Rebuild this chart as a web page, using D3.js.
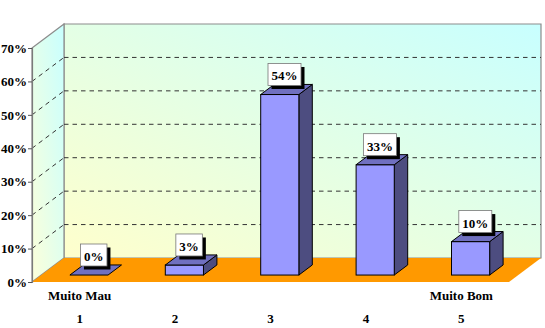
<!DOCTYPE html>
<html>
<head>
<meta charset="utf-8">
<script src="https://cdn.jsdelivr.net/npm/d3@7"></script>
<style>
  body { margin: 0; background: #fff; }
  svg { display: block; }
  text { font-family: "Liberation Serif", "Times New Roman", serif; font-weight: bold; }
</style>
</head>
<body>
<svg id="chart"></svg>
<script>
var categories = ["1", "2", "3", "4", "5"]
var endLabels = ["Muito Mau", "", "", "", "Muito Bom"]
var values = [0, 3, 54, 33, 10]
var valueLabels = ["0%", "3%", "54%", "33%", "10%"]
var yTicks = [0, 10, 20, 30, 40, 50, 60, 70]

buildChart()

function buildChart() {
	var dim = { width: 545, height: 328, left: 32, right: 509, top: 48, bottom: 282 }
	// depth of the 3d box, and where the bars sit inside it
	var depth = { dx: 32, dy: -24, f0: 0.29, f1: 0.71 }

	var svg = d3.select('#chart')
		.attr('width', dim.width)
		.attr('height', dim.height)

	var x = d3.scaleBand()
		.domain(categories)
		.range([dim.left, dim.right])
		.paddingInner(0.6)
		.paddingOuter(0.3)

	var y = d3.scaleLinear()
		.domain([0, 70])
		.range([dim.bottom, dim.top])

	var defs = svg.append('defs')
	var g1 = defs.append('linearGradient').attr('id', 'wallGrad')
		.attr('x1', 0).attr('y1', 1).attr('x2', 1).attr('y2', 0)
	g1.append('stop').attr('offset', '0%').attr('stop-color', '#FFFFCC')
	g1.append('stop').attr('offset', '100%').attr('stop-color', '#C8FFFF')
	var g2 = defs.append('linearGradient').attr('id', 'sideGrad')
		.attr('x1', 0).attr('y1', 1).attr('x2', 1).attr('y2', 0)
	g2.append('stop').attr('offset', '0%').attr('stop-color', '#FCFFDA')
	g2.append('stop').attr('offset', '100%').attr('stop-color', '#C8FFFF')

	var pts = p => p.map(d => d.join(',')).join(' ')
	var x0 = dim.left, x1 = dim.right, yb = y(0), yt = y(70)
	var dx = depth.dx, dy = depth.dy

	// back wall
	svg.append('polygon')
		.attr('points', pts([[x0 + dx, yt + dy], [x1 + dx, yt + dy], [x1 + dx, yb + dy], [x0 + dx, yb + dy]]))
		.attr('fill', 'url(#wallGrad)')
		.attr('stroke', '#8c8c8c')
		.attr('stroke-width', 1.2)
	// left wall
	svg.append('polygon')
		.attr('points', pts([[x0, yt], [x0 + dx, yt + dy], [x0 + dx, yb + dy], [x0, yb]]))
		.attr('fill', 'url(#sideGrad)')
		.attr('stroke', '#8c8c8c')
		.attr('stroke-width', 1.2)

	// gridlines
	var grid = yTicks.filter(d => d > 0 && d < 70)
	svg.selectAll('line.hgrid')
		.data(grid)
		.enter()
		.append('line')
			.attr('x1', x0 + dx)
			.attr('x2', x1 + dx)
			.attr('y1', d => y(d) + dy)
			.attr('y2', d => y(d) + dy)
			.attr('stroke', '#333')
			.attr('stroke-dasharray', '4.5,4')
	svg.selectAll('line.dgrid')
		.data(grid)
		.enter()
		.append('line')
			.attr('x1', x0)
			.attr('x2', x0 + dx)
			.attr('y1', d => y(d))
			.attr('y2', d => y(d) + dy)
			.attr('stroke', '#333')
			.attr('stroke-dasharray', '4.5,4')

	// floor
	svg.append('polygon')
		.attr('points', pts([[x0, yb], [x0 + dx, yb + dy], [x1 + dx, yb + dy], [x1, yb]]))
		.attr('fill', '#FF9900')

	// axis
	var axis = svg.append('g')
		.attr('transform', 'translate(' + x0 + ',0)')
		.call(d3.axisLeft(y).tickValues(yTicks).tickSize(4).tickFormat(d => d + '%'))
	axis.select('.domain').attr('stroke', '#7a7a7a').attr('stroke-width', 1.2)
	axis.selectAll('.tick line').attr('stroke', '#555')
	axis.selectAll('.tick text')
		.attr('x', -5)
		.attr('fill', '#000')
		.style('font-size', '13px')
		.style('font-family', '"Liberation Serif", serif')
		.style('font-weight', 'bold')

	// bars
	var fx0 = depth.f0 * dx, fy0 = depth.f0 * dy
	var bdx = (depth.f1 - depth.f0) * dx, bdy = (depth.f1 - depth.f0) * dy
	var bw = x.bandwidth()
	var bars = svg.selectAll('g.bar')
		.data(values)
		.enter()
		.append('g')
		.attr('class', 'bar')

	bars.each(function (v, i) {
		var g = d3.select(this)
		var L = x(categories[i]) + fx0, R = L + bw
		var B = y(0) + fy0, T = y(v) + fy0
		if (v > 0) {
			g.append('polygon')
				.attr('points', pts([[R, B], [R + bdx, B + bdy], [R + bdx, T + bdy], [R, T]]))
				.attr('fill', '#4D4D80').attr('stroke', '#000').attr('stroke-width', 1)
			g.append('rect')
				.attr('x', L).attr('y', T).attr('width', bw).attr('height', B - T)
				.attr('fill', '#9999FF').attr('stroke', '#000').attr('stroke-width', 1)
		}
		g.append('polygon')
			.attr('points', pts([[L, T], [L + bdx, T + bdy], [R + bdx, T + bdy], [R, T]]))
			.attr('fill', '#7070C0').attr('stroke', '#000').attr('stroke-width', 1)

		// label box
		var cx = (L + R) / 2 + bdx / 2, cy = T + bdy / 2
		var txt = g.append('text')
			.attr('x', cx - 2)
			.attr('y', cy - 9)
			.attr('text-anchor', 'middle')
			.style('font-size', '13px')
			.text(valueLabels[i])
		var w = txt.node().getComputedTextLength() + 7
		var bx = cx - 2 - w / 2, by = cy - 26, bh = 22
		g.insert('rect', 'text')
			.attr('x', bx + 3.5).attr('y', by + 3.5).attr('width', w).attr('height', bh)
			.attr('fill', '#000')
		g.insert('rect', 'text')
			.attr('x', bx).attr('y', by).attr('width', w).attr('height', bh)
			.attr('fill', '#fff').attr('stroke', '#777').attr('stroke-width', 0.8)
	})

	// category labels
	svg.selectAll('text.end')
		.data(endLabels)
		.enter()
		.append('text')
			.attr('x', (d, i) => x(categories[i]) + bw / 2)
			.attr('y', 300)
			.attr('text-anchor', 'middle')
			.style('font-size', '13px')
			.text(d => d)
	svg.selectAll('text.cat')
		.data(categories)
		.enter()
		.append('text')
			.attr('x', d => x(d) + bw / 2)
			.attr('y', 323)
			.attr('text-anchor', 'middle')
			.style('font-size', '13px')
			.text(d => d)
}
</script>
</body>
</html>
